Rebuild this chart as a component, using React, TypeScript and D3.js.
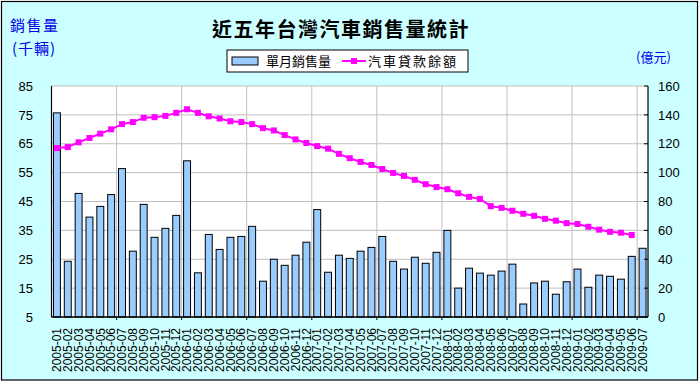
import React from "react";
import * as d3 from "d3";

const categories: string[] = [
  "2005-01","2005-02","2005-03","2005-04","2005-05","2005-06","2005-07","2005-08","2005-09","2005-10","2005-11","2005-12",
  "2006-01","2006-02","2006-03","2006-04","2006-05","2006-06","2006-07","2006-08","2006-09","2006-10","2006-11","2006-12",
  "2007-01","2007-02","2007-03","2007-04","2007-05","2007-06","2007-07","2007-08","2007-09","2007-10","2007-11","2007-12",
  "2008-01","2008-02","2008-03","2008-04","2008-05","2008-06","2008-07","2008-08","2008-09","2008-10","2008-11","2008-12",
  "2009-01","2009-02","2009-03","2009-04","2009-05","2009-06","2009-07",
];

const monthlySales: number[] = [
  75.7, 24.3, 47.8, 39.6, 43.3, 47.4, 56.4, 27.8, 44.0, 32.6, 35.7, 40.2,
  59.1, 20.3, 33.6, 28.4, 32.6, 32.9, 36.4, 17.4, 25.0, 22.9, 26.4, 30.9,
  42.2, 20.5, 26.4, 25.3, 27.8, 29.1, 32.9, 24.3, 21.6, 25.7, 23.6, 27.4,
  35.0, 15.0, 21.9, 20.2, 19.5, 20.9, 23.3, 9.5, 16.8, 17.4, 12.9, 17.2,
  21.6, 15.3, 19.5, 19.1, 18.1, 26.0, 28.8,
];

const loanBalance: (number | null)[] = [
  117, 117.7, 121, 124, 127, 130, 133.6, 135, 138, 138.4, 139.3, 141.4,
  143.9, 141.4, 139, 137.5, 135.6, 135, 133.6, 130.8, 129.2, 126, 123, 120.5,
  118.4, 116.6, 113, 110, 107.4, 105.3, 102.5, 99.8, 97.7, 95, 92, 90,
  88.5, 85.7, 83.2, 81.8, 76.8, 75.6, 73.6, 71.5, 70.1, 68, 66.7, 65,
  64.4, 62.5, 60.5, 59, 58.4, 56.8, null,
];

const leftTicks: number[] = [5, 15, 25, 35, 45, 55, 65, 75, 85];
const rightTicks: number[] = [0, 20, 40, 60, 80, 100, 120, 140, 160];

const title = "近五年台灣汽車銷售量統計";
const seriesNames = ["單月銷售量", "汽車貸款餘額"];

export default function App() {
  const W = 700, H = 382;
  const L = 51.5, R = 648, T = 86, B = 317;

  const x = d3.scaleBand<string>().domain(categories).range([L, R]).paddingInner(0).paddingOuter(0);
  const yL = d3.scaleLinear().domain([5, 85]).range([B, T]);
  const yR = d3.scaleLinear().domain([0, 160]).range([B, T]);
  const bw = x.bandwidth();
  const barW = bw * 0.64;
  const cx = (c: string) => (x(c) as number) + bw / 2;

  const lineGen = d3
    .line<number | null>()
    .defined((d) => d != null)
    .x((_, i) => cx(categories[i]))
    .y((d) => yR(d as number));

  const vGrid = categories.map((_, i) => i).filter((i) => i > 0 && i % 6 === 0);

  const font = "'Liberation Sans', Arial, sans-serif";
  const cjk = "'Noto Sans CJK TC', 'Noto Sans CJK SC', sans-serif";
  const blue = "#0000EE";

  return (
    <svg width={W} height={H} style={{ position: "absolute", left: 0, top: 0 }}>
      <rect x={1.5} y={1.5} width={696} height={378.5} fill="#CCFFFF" stroke="#000" strokeWidth={1.2} />
      <rect x={L} y={T} width={R - L} height={B - T} fill="#FFFFFF" />
      {leftTicks.map((t) => (
        <line key={"h" + t} x1={L} x2={R} y1={yL(t)} y2={yL(t)} stroke="#BFBFBF" strokeWidth={1} />
      ))}
      {vGrid.map((i) => (
        <line key={"v" + i} x1={x(categories[i])} x2={x(categories[i])} y1={T} y2={B} stroke="#BFBFBF" strokeWidth={1} />
      ))}
      {monthlySales.map((v, i) => (
        <rect
          key={"b" + i}
          x={cx(categories[i]) - barW / 2}
          y={yL(v)}
          width={barW}
          height={B - yL(v)}
          fill="#99CCFF"
          stroke="#000"
          strokeWidth={1}
        />
      ))}
      <line x1={L} x2={L} y1={T} y2={B} stroke="#000" strokeWidth={1.2} />
      <line x1={R} x2={R} y1={T} y2={B} stroke="#000" strokeWidth={1.2} />
      <line x1={L} x2={R} y1={B} y2={B} stroke="#000" strokeWidth={1.5} />
      {rightTicks.map((t) => (
        <line key={"rt" + t} x1={R - 4} x2={R} y1={yR(t)} y2={yR(t)} stroke="#000" />
      ))}
      {vGrid.map((i) => (
        <line key={"bt" + i} x1={x(categories[i])} x2={x(categories[i])} y1={B} y2={B + 3} stroke="#000" />
      ))}
      <path d={lineGen(loanBalance) || ""} fill="none" stroke="#FF00FF" strokeWidth={2} />
      {loanBalance.map((v, i) =>
        v == null ? null : (
          <rect key={"m" + i} x={cx(categories[i]) - 3} y={yR(v) - 3} width={6} height={6} fill="#FF00FF" />
        )
      )}
      {leftTicks.map((t) => (
        <text key={"lt" + t} x={33} y={yL(t)} dy="0.36em" textAnchor="end" fontFamily={font} fontSize={13} fill="#000">
          {t}
        </text>
      ))}
      {rightTicks.map((t) => (
        <text key={"rl" + t} x={658} y={yR(t)} dy="0.36em" textAnchor="start" fontFamily={font} fontSize={13} fill="#000">
          {t}
        </text>
      ))}
      {categories.map((c) => (
        <text
          key={"xl" + c}
          transform={`translate(${cx(c) + 4.2},${328}) rotate(-90)`}
          textAnchor="end"
          fontFamily={font}
          fontSize={12}
          fill="#000"
        >
          {c}
        </text>
      ))}
      <text x={341} y={37} textAnchor="middle" fontFamily={cjk} fontWeight="bold" fontSize={20} letterSpacing={1.5} fill="#000">
        {title}
      </text>
      <text x={10} y={31} fontFamily={cjk} fontSize={15} letterSpacing={1.5} fill={blue}>銷售量</text>
      <text x={12} y={54} fontFamily={cjk} fontSize={15} letterSpacing={1} fill={blue}>(千輛)</text>
      <text x={636} y={62} fontFamily={cjk} fontSize={13} fill={blue}>(億元)</text>
      <rect x={227} y={50} width={241} height={22} fill="#FFFFFF" stroke="#000" strokeWidth={1} />
      <rect x={232} y={57} width={26} height={8} fill="#99CCFF" stroke="#000" strokeWidth={1} />
      <text x={266} y={66} fontFamily={cjk} fontSize={13} fill="#000">{seriesNames[0]}</text>
      <line x1={342} x2={366} y1={61} y2={61} stroke="#FF00FF" strokeWidth={2} />
      <rect x={351} y={58} width={6} height={6} fill="#FF00FF" />
      <text x={368} y={66} fontFamily={cjk} fontSize={13} letterSpacing={2} fill="#000">{seriesNames[1]}</text>
    </svg>
  );
}
